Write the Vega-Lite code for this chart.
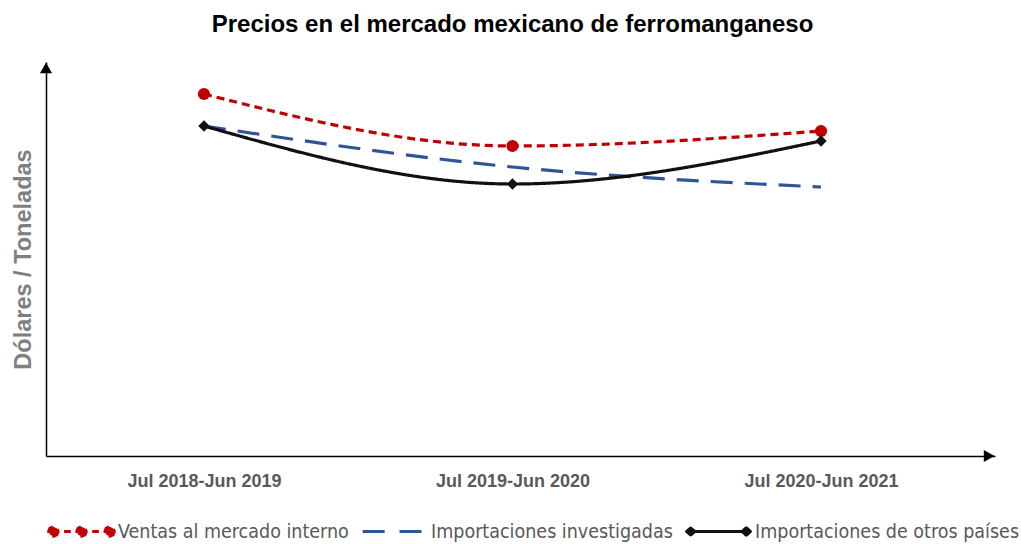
{
  "$schema": "https://vega.github.io/schema/vega-lite/v6.json",
  "autosize": {"type": "none"},
  "width": 949,
  "height": 394,
  "padding": {"left": 46, "top": 62, "right": 26, "bottom": 88},
  "background": "white",
  "config": {"view": {"stroke": null}, "font": "Liberation Sans"},
  "title": {
    "text": "Precios en el mercado mexicano de ferromanganeso",
    "fontSize": 24,
    "fontWeight": "bold",
    "color": "#000000",
    "anchor": "middle",
    "offset": 25,
    "dx": -8
  },
  "datasets": {
    "precios": [
      {"periodo": "Jul 2018-Jun 2019", "idx": 0, "serie": "Ventas al mercado interno", "valor": 362},
      {"periodo": "Jul 2019-Jun 2020", "idx": 1, "serie": "Ventas al mercado interno", "valor": 310},
      {"periodo": "Jul 2020-Jun 2021", "idx": 2, "serie": "Ventas al mercado interno", "valor": 325},
      {"periodo": "Jul 2018-Jun 2019", "idx": 0, "serie": "Importaciones investigadas", "valor": 330},
      {"periodo": "Jul 2019-Jun 2020", "idx": 1, "serie": "Importaciones investigadas", "valor": 289},
      {"periodo": "Jul 2020-Jun 2021", "idx": 2, "serie": "Importaciones investigadas", "valor": 269},
      {"periodo": "Jul 2018-Jun 2019", "idx": 0, "serie": "Importaciones de otros países", "valor": 330},
      {"periodo": "Jul 2019-Jun 2020", "idx": 1, "serie": "Importaciones de otros países", "valor": 272},
      {"periodo": "Jul 2020-Jun 2021", "idx": 2, "serie": "Importaciones de otros países", "valor": 315}
    ]
  },
  "layer": [
    {
      "data": {"name": "precios"},
      "mark": {"type": "line", "interpolate": "monotone"},
      "encoding": {
        "x": {
          "field": "idx",
          "type": "quantitative",
          "scale": {"domain": [-0.512, 2.564], "nice": false, "zero": false},
          "axis": {
            "title": null,
            "values": [0, 1, 2],
            "labelExpr": "['Jul 2018-Jun 2019','Jul 2019-Jun 2020','Jul 2020-Jun 2021'][datum.value]",
            "grid": false,
            "ticks": false,
            "domainColor": "#000000",
            "domainWidth": 1.5,
            "labelFontSize": 18,
            "labelFontWeight": "bold",
            "labelColor": "#595959",
            "labelPadding": 16
          }
        },
        "y": {
          "field": "valor",
          "type": "quantitative",
          "scale": {"domain": [0, 394], "nice": false},
          "axis": {
            "title": "Dólares / Toneladas",
            "titleFontSize": 23.5,
            "titleFontWeight": "bold",
            "titleColor": "#7F7F7F",
            "titlePadding": 11,
            "labels": false,
            "ticks": false,
            "grid": false,
            "domainColor": "#000000",
            "domainWidth": 1.5
          }
        },
        "color": {
          "field": "serie",
          "type": "nominal",
          "sort": ["Ventas al mercado interno", "Importaciones investigadas", "Importaciones de otros países"],
          "scale": {
            "domain": ["Ventas al mercado interno", "Importaciones investigadas", "Importaciones de otros países"],
            "range": ["#C00000", "#2F5597", "#111111"]
          },
          "legend": {
            "title": null,
            "orient": "bottom",
            "direction": "horizontal",
            "offset": 6,
            "labelFont": "DejaVu Sans Condensed",
            "labelFontSize": 19.5,
            "labelColor": "#595959",
            "symbolSize": 4489,
            "symbolStrokeWidth": 3.5,
            "symbolDash": [1, 0],
            "columnPadding": 10,
            "labelOffset": 1,
            "labelLimit": 400,
            "encode": {
              "symbols": {
                "update": {
                  "shape": {"signal": "datum.value === 'Ventas al mercado interno' ? 'M0,-0.2M0,0.2M-0.7,0L-0.741,0.099L-0.84,0.14L-0.939,0.099L-0.98,0L-0.939,-0.099L-0.84,-0.14L-0.741,-0.099ZM0.14,0L0.099,0.099L0,0.14L-0.099,0.099L-0.14,0L-0.099,-0.099L0,-0.14L0.099,-0.099ZM0.98,0L0.939,0.099L0.84,0.14L0.741,0.099L0.7,0L0.741,-0.099L0.84,-0.14L0.939,-0.099ZM-0.52,0H-0.32M0.32,0H0.52' : datum.value === 'Importaciones investigadas' ? 'M0,-0.2M0,0.2M-0.95,0H-0.15M0.15,0H0.95' : 'M0,-0.2M0,0.2M-0.95,0L-0.83,-0.1L-0.71,0L-0.83,0.1ZM-0.71,0H0.71M0.71,0L0.83,-0.11L0.95,0L0.83,0.11Z'"},
                  "fill": {"signal": "scale('color', datum.value)"},
                  "fillOpacity": {"value": 1},
                  "strokeDash": {"value": [1, 0]},
                  "strokeJoin": {"value": "round"}
                }
              }
            }
          }
        },
        "strokeDash": {
          "field": "serie",
          "type": "nominal",
          "sort": ["Ventas al mercado interno", "Importaciones investigadas", "Importaciones de otros países"],
          "scale": {
            "domain": ["Ventas al mercado interno", "Importaciones investigadas", "Importaciones de otros países"],
            "range": [[8, 5], [22, 12], [1, 0]]
          },
          "legend": null
        },
        "strokeWidth": {
          "field": "serie",
          "type": "nominal",
          "scale": {
            "domain": ["Ventas al mercado interno", "Importaciones investigadas", "Importaciones de otros países"],
            "range": [3.2, 3.2, 4.2]
          },
          "legend": null
        }
      }
    },
    {
      "data": {"name": "precios"},
      "transform": [{"filter": "datum.serie !== 'Importaciones investigadas'"}],
      "mark": {"type": "point", "filled": true, "opacity": 1},
      "encoding": {
        "x": {"field": "idx", "type": "quantitative"},
        "y": {"field": "valor", "type": "quantitative"},
        "color": {"field": "serie", "type": "nominal", "legend": null},
        "shape": {
          "field": "serie",
          "type": "nominal",
          "scale": {
            "domain": ["Ventas al mercado interno", "Importaciones de otros países"],
            "range": ["circle", "diamond"]
          },
          "legend": null
        },
        "size": {
          "field": "serie",
          "type": "nominal",
          "scale": {
            "domain": ["Ventas al mercado interno", "Importaciones de otros países"],
            "range": [150, 130]
          },
          "legend": null
        }
      }
    },
    {
      "data": {"values": [{"eje": "y"}]},
      "mark": {"type": "point", "shape": "triangle-up", "filled": true, "color": "#000000", "size": 150, "opacity": 1},
      "encoding": {
        "x": {"datum": -0.512, "type": "quantitative"},
        "y": {"datum": 388, "type": "quantitative"}
      }
    },
    {
      "data": {"values": [{"eje": "x"}]},
      "mark": {"type": "point", "shape": "triangle-right", "filled": true, "color": "#000000", "size": 150, "opacity": 1},
      "encoding": {
        "x": {"datum": 2.545, "type": "quantitative"},
        "y": {"datum": 0, "type": "quantitative"}
      }
    }
  ]
}
